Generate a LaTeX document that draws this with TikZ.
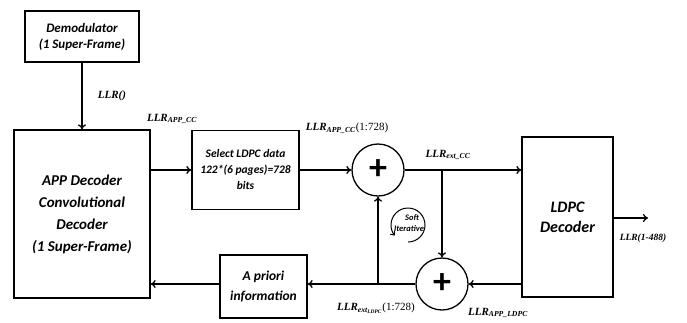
\documentclass[tikz,border=0pt]{standalone}
\usepackage{fontspec}
\setmainfont{Carlito}
\newfontfamily\lblfont{Liberation Serif}
\usetikzlibrary{arrows.meta}
\newcommand\sbs[1]{\textsubscript{#1}}
\begin{document}
\begin{tikzpicture}[x=1pt,y=-1pt,
  line width=1.3pt,
  arr/.style={-{To[length=5pt,width=8pt]}},
  blk/.style={draw,rectangle,align=center,inner sep=0pt,font=\bfseries\itshape},
  sumc/.style={draw,circle,minimum size=52pt,inner sep=0pt,font=\bfseries\fontsize{36}{36}\selectfont},
  lbl/.style={inner sep=0pt,font=\lblfont\bfseries\itshape\fontsize{11}{12}\selectfont}
]
\useasboundingbox (0,0) rectangle (687,322);
\node[blk,minimum width=114pt,minimum height=51pt,font=\bfseries\itshape\fontsize{13}{16}\selectfont] (demod) at (82,36.5) {Demodulator\\(1 Super-Frame)};
\node[blk,minimum width=136pt,minimum height=168pt,font=\bfseries\itshape\fontsize{15}{22}\selectfont] (app) at (82,214) {APP Decoder\\Convolutional\\Decoder\\(1 Super-Frame)};
\node[blk,minimum width=107pt,minimum height=79pt,font=\bfseries\itshape\fontsize{11.5}{16}\selectfont] (sel) at (245.5,170) {Select LDPC data\\122*(6 pages)=728\\bits};
\node[sumc] (sum1) at (378,170) {\raisebox{1pt}{+}};
\node[blk,minimum width=91pt,minimum height=160pt,font=\bfseries\itshape\fontsize{16}{20}\selectfont] (ldpc) at (567.5,217) {LDPC\\Decoder};
\node[sumc] (sum2) at (442,284) {\raisebox{1pt}{+}};
\node[blk,minimum width=87pt,minimum height=63pt,font=\bfseries\itshape\fontsize{13.5}{20}\selectfont] (apri) at (263.5,286.5) {A priori\\information};
\coordinate (br1) at (442,170);
\coordinate (br2) at (378,284);
\coordinate (out) at (648,218);
\coordinate (softc) at (408,225);

\draw[arr] (demod.south) -- (app.north);
\draw[arr] (app.east |- sel.west) -- (sel.west);
\draw[arr] (sel.east) -- (sum1.west);
\draw[arr] (sum1.east) -- (sum1.east -| ldpc.west);
\draw[arr] (br1) -- (sum2.north);
\draw[arr] (ldpc.west |- sum2.east) -- (sum2.east);
\draw[arr] (sum2.west) -- (apri.east |- sum2.west);
\draw[arr] (br2) -- (sum1.south);
\draw[arr] (apri.west |- sum2.west) -- (app.east |- sum2.west);
\draw[arr] (ldpc.east |- out) -- (out);

\draw[line width=1pt,-{To[length=4pt,width=6pt]}] (softc) ++(90:17) arc[start angle=90,end angle=-218,radius=17];
\node[inner sep=0pt,align=center,font=\bfseries\itshape\fontsize{8.5}{11}\selectfont] (soft) at (409,223) {\hspace*{6pt}Soft\\Iterative};

\node[lbl,font=\lblfont\bfseries\itshape\fontsize{11}{12}\selectfont] (l1) at (112,96) {LLR()};
\node[lbl] (l2) at (172,119) {LLR\sbs{APP\_CC}};
\node[lbl] (l3) at (347,128) {LLR\sbs{APP\_CC}\textup{\mdseries(1:728)}};
\node[lbl] (l4) at (448,155) {LLR\sbs{ext\_CC}};
\node[lbl,font=\lblfont\bfseries\itshape\fontsize{9.5}{12}\selectfont] (l5) at (643,238) {LLR(1-488)};
\node[lbl] (l6) at (376,308) {LLR\sbs{ext\sbs{LDPC}}\textup{\mdseries(1:728)}};
\node[lbl] (l7) at (498,313) {LLR\sbs{APP\_LDPC}};
\end{tikzpicture}
\end{document}
